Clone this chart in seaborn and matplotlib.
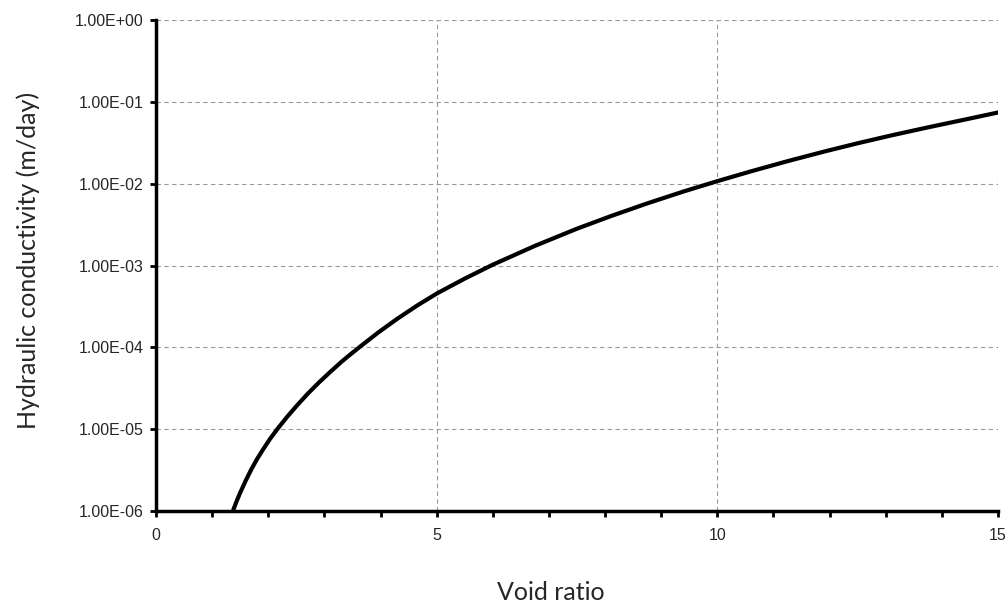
import matplotlib
matplotlib.use("Agg")
import matplotlib.pyplot as plt
import seaborn as sns
import numpy as np
from matplotlib.ticker import FuncFormatter, MultipleLocator, NullLocator

# Values (void ratio vs log10 of conductivity, m/day)
void_ratio = [1.37, 1.43, 1.5, 1.6, 1.7, 1.8, 1.9, 2.03, 2.16, 2.33, 2.5, 2.7, 2.9,
              3.1, 3.3, 3.46, 3.62, 3.95, 4.3, 4.65, 5.0, 5.5, 6.0, 6.75, 7.5, 8.1,
              8.75, 9.4, 10.0, 10.6, 11.25, 11.9, 12.5, 13.1, 13.75, 14.4, 15.0]
log_conductivity = [-6.0, -5.89, -5.775, -5.626, -5.488, -5.365, -5.255, -5.12, -5.0,
                    -4.854, -4.719, -4.569, -4.431, -4.303, -4.179, -4.088, -4.0,
                    -3.823, -3.65, -3.49, -3.343, -3.16, -2.99, -2.76, -2.55, -2.397,
                    -2.241, -2.095, -1.969, -1.849, -1.725, -1.608, -1.506, -1.41,
                    -1.312, -1.218, -1.13]
conductivity = 10.0 ** np.array(log_conductivity)

x_ticks = [0, 5, 10, 15]
y_ticks = [1e-6, 1e-5, 1e-4, 1e-3, 1e-2, 1e-1, 1e0]

sns.set_style("white")
plt.rcParams['font.family'] = ['Liberation Sans', 'DejaVu Sans']

fig = plt.figure(figsize=(10.08, 6.07), dpi=100)
ax = fig.add_axes([0.1548, 0.1582, 0.8353, 0.8088])

sns.lineplot(x=void_ratio, y=conductivity, color='black', lw=3, ax=ax)

ax.set_yscale('log')
ax.set_xlim(0, 15)
ax.set_ylim(1e-6, 1)
ax.set_xticks(x_ticks)
ax.xaxis.set_minor_locator(MultipleLocator(1))
ax.set_yticks(y_ticks)
ax.yaxis.set_minor_locator(NullLocator())
ax.yaxis.set_major_formatter(FuncFormatter(lambda v, p: f"{v:.2E}"))

ax.grid(True, which='major', color='#9a9a9a', ls=(0, (4, 3)), lw=0.8)
ax.set_axisbelow(True)

for side in ['top', 'right']:
    ax.spines[side].set_visible(False)
for side in ['left', 'bottom']:
    ax.spines[side].set_color('black')
    ax.spines[side].set_linewidth(2.5)

ax.tick_params(axis='both', which='both', bottom=True, left=True, top=False, right=False)
ax.tick_params(axis='both', which='major', direction='out', length=4, width=2,
               color='black', labelsize=11.5, labelcolor='#262626', pad=5)
ax.tick_params(axis='x', which='minor', direction='out', length=4, width=2, color='black')
ax.tick_params(axis='x', which='major', pad=8)

ax.set_xlabel("Void ratio", fontsize=18, family=['Lato', 'DejaVu Sans'], va='center')
ax.set_ylabel("Hydraulic conductivity (m/day)", fontsize=18, family=['Lato', 'DejaVu Sans'], va='center')
ax.xaxis.set_label_coords(0.469, -0.167)
ax.yaxis.set_label_coords(-0.152, 0.511)

fig.savefig("out.png", dpi=100)
